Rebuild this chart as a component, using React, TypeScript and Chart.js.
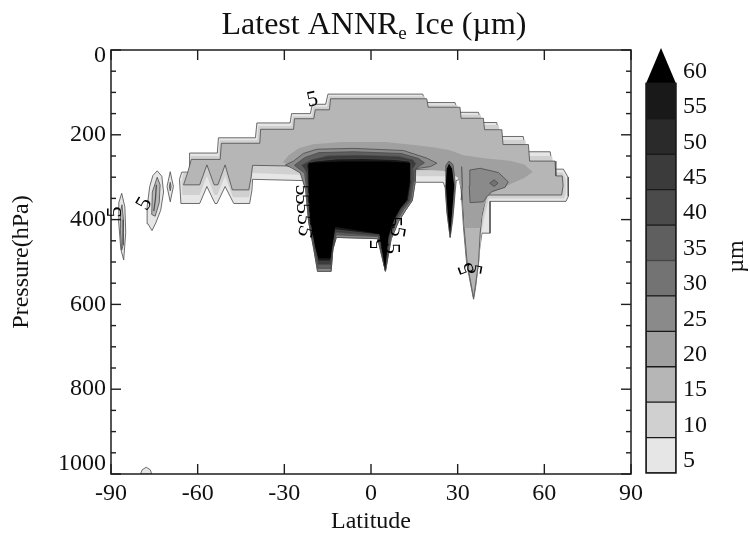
import React, { useEffect, useRef } from "react";
import { Chart, registerables } from "chart.js";

Chart.register(...registerables);

type Pt = [number, number]; // [latitude (deg), pressure (hPa)]

// ---------- axes ----------
const LAT_TICKS = [-90, -60, -30, 0, 30, 60, 90];
const P_TICKS = [0, 200, 400, 600, 800, 1000];
const P_MINOR = [50, 100, 150, 250, 300, 350, 450, 500, 550, 650, 700, 750, 850, 900, 950];

// ---------- colour levels (µm) ----------
const LEVELS = [5, 10, 15, 20, 25, 30, 35, 40, 45, 50, 55, 60];
const LEVEL_COLORS = [
  "#e6e6e6", "#d0d0d0", "#b6b6b6", "#a0a0a0", "#8a8a8a", "#737373",
  "#5f5f5f", "#4b4b4b", "#3b3b3b", "#2a2a2a", "#191919",
];
const OVER_COLOR = "#000000";

// ---------- contour regions ----------
const DOME_5: Pt[] = [
  [-66.3, 305], [-65.5, 288], [-63.0, 288], [-62.8, 243], [-53.2, 243], [-52.8, 207],
  [-40.0, 207], [-39.5, 172], [-28.0, 172], [-27.5, 150], [-21.0, 150], [-20.3, 128],
  [-15.7, 128], [-14.9, 104], [17.9, 104], [18.9, 124], [29.1, 124], [30.0, 147],
  [37.2, 147], [38.3, 171], [43.5, 171], [44.5, 204], [52.7, 204], [53.6, 240],
  [62.0, 240], [63.0, 281], [66.6, 281], [68.2, 300], [68.3, 345], [67.5, 357],
  [41.2, 357], [41.2, 432], [38.4, 432], [37.6, 470], [37.2, 503], [36.2, 560],
  [35.5, 588], [34.7, 560], [33.1, 503], [32.0, 417], [31.2, 330], [30.6, 305],
  [29.5, 308], [29.2, 330], [28.3, 400], [27.4, 442], [26.3, 385], [25.7, 325],
  [25.0, 312], [15.3, 312], [14.3, 355], [12.0, 378], [9.5, 405], [8.3, 425],
  [7.0, 445], [5.0, 522], [2.3, 445], [-12.0, 442], [-13.2, 470], [-13.8, 522],
  [-18.5, 522], [-19.8, 470], [-21.6, 405], [-22.6, 330], [-23.5, 308], [-41.0, 305],
  [-41.2, 330], [-42.0, 362], [-47.5, 362], [-50.5, 322], [-53.3, 362], [-54.0, 362],
  [-56.8, 322], [-59.3, 362], [-65.8, 362],
];

const DOME_10: Pt[] = [
  [-65.6, 310], [-64.9, 290], [-62.5, 290], [-62.4, 250], [-52.8, 250], [-52.4, 213],
  [-39.4, 213], [-39.0, 179], [-27.5, 179], [-27.1, 156], [-20.5, 156], [-19.9, 134],
  [-15.2, 134], [-14.5, 109], [18.5, 109], [19.4, 129], [29.8, 129], [30.5, 153],
  [37.9, 153], [38.8, 177], [44.2, 177], [45.0, 212], [53.4, 212], [54.2, 250],
  [62.7, 250], [63.4, 289], [66.4, 289], [67.4, 305], [67.4, 340], [66.8, 350],
  [40.8, 350], [39.6, 385], [38.3, 428], [37.4, 503], [36.1, 561], [35.5, 586],
  [34.8, 561], [33.2, 503], [32.1, 417], [31.3, 330], [30.8, 302], [29.0, 298],
  [25.0, 298], [14.8, 298], [14.0, 320], [0, 320], [-22.5, 320], [-23.3, 295],
  [-41.1, 290], [-41.4, 320], [-42.2, 347], [-47.8, 347], [-50.5, 297], [-53.2, 342],
  [-54.2, 342], [-56.8, 297], [-59.3, 342], [-65.3, 342],
];

const DOME_15: Pt[] = [
  [-64.9, 318], [-63.5, 290], [-62.2, 258], [-52.2, 258], [-51.8, 220], [-38.5, 220],
  [-38.2, 187], [-26.8, 187], [-26.5, 162], [-19.8, 162], [-19.3, 141], [-14.4, 141],
  [-14.0, 115], [19.3, 115], [19.8, 135], [30.8, 135], [31.2, 161], [38.9, 161],
  [39.3, 188], [45.3, 188], [45.7, 223], [54.5, 223], [54.9, 262], [63.7, 262],
  [64.0, 297], [66.2, 297], [66.5, 320], [66.0, 342], [40.0, 342], [38.4, 392],
  [37.8, 432], [37.2, 503], [36.0, 562], [35.5, 584], [34.9, 562], [33.3, 503],
  [32.2, 417], [31.5, 330], [31.0, 300], [29.0, 290], [25.0, 282], [14.0, 282],
  [14.0, 290], [0, 300], [-22.0, 290], [-23.0, 278], [-25.0, 274], [-41.0, 272],
  [-41.5, 300], [-42.3, 330], [-48.0, 330], [-50.5, 271], [-53.0, 318], [-54.3, 318],
  [-56.8, 271], [-59.3, 318],
];

const HALO_20: Pt[] = [
  [-30.5, 265], [-28.5, 248], [-25.0, 232], [-20.0, 222], [-10.0, 217], [5.0, 217],
  [15.0, 224], [22.0, 230], [27.0, 236], [32.0, 248], [40.0, 256], [48.0, 261],
  [53.0, 270], [56.0, 288], [53.0, 302], [47.0, 320], [43.0, 333], [40.5, 342],
  [38.5, 380], [37.8, 420], [32.5, 420], [31.8, 340], [30.0, 300], [25.0, 285],
  [14.0, 280], [0, 290], [-22.0, 285], [-27.0, 275],
];

const BLOB_25: Pt[] = [
  [34.2, 283], [37.8, 279], [44.1, 289], [47.5, 311], [46.4, 324], [41.8, 334],
  [40.1, 346], [38.9, 358], [34.3, 360], [34.0, 320],
];
const BLOB_30: Pt[] = [[41.1, 314], [42.6, 306], [44.0, 314], [42.6, 322]];

const CORE_25: Pt[] = [
  [-29.6, 271], [-26.8, 262], [-23.4, 244], [-18.7, 234], [-6.0, 232], [11.2, 237],
  [19.3, 255], [22.8, 267], [20.5, 275], [15.5, 280], [15.3, 310], [14.3, 355],
  [12.0, 378], [9.5, 405], [8.3, 425], [7.0, 445], [5.0, 522], [2.3, 445],
  [-12.0, 442], [-13.2, 470], [-13.8, 522], [-18.5, 522], [-19.8, 470], [-21.6, 405],
  [-22.6, 330], [-24.5, 290], [-27.5, 278],
];
const CORE_35: Pt[] = [
  [-26.5, 272], [-23.0, 254], [-18.0, 242], [-6.0, 240], [10.5, 244], [16.5, 256],
  [18.5, 266], [16.5, 275], [14.8, 285], [14.8, 310], [13.8, 355], [11.4, 376],
  [9.0, 403], [7.9, 422], [6.7, 443], [5.0, 521], [2.5, 440], [-12.1, 436],
  [-13.2, 470], [-13.9, 515], [-18.4, 515], [-19.6, 468], [-21.4, 404], [-22.2, 330],
  [-23.0, 290], [-25.0, 280],
];
const CORE_45: Pt[] = [
  [-24.0, 272], [-20.5, 259], [-15.0, 250], [-5.0, 248], [9.5, 251], [14.5, 259],
  [15.5, 268], [14.4, 280], [14.3, 310], [13.3, 355], [10.8, 375], [8.5, 402],
  [7.6, 420], [6.4, 442], [4.95, 520], [2.7, 438], [-12.2, 430], [-13.3, 470],
  [-13.95, 506], [-18.3, 506], [-19.5, 466], [-21.2, 403], [-21.9, 330], [-22.3, 290],
  [-23.0, 280],
];
const CORE_55: Pt[] = [
  [-22.3, 270], [-19.5, 262], [-12.0, 257], [-3.0, 256], [8.0, 258], [13.0, 262],
  [14.0, 270], [13.9, 310], [12.9, 354], [10.4, 374], [8.2, 401], [7.3, 419],
  [6.2, 441], [4.9, 519], [2.8, 436], [-12.3, 424], [-13.4, 470], [-14.0, 498],
  [-18.3, 498], [-19.4, 465], [-21.1, 402], [-21.7, 330], [-21.9, 290],
];
const CORE_60: Pt[] = [
  [-21.6, 266], [-10.0, 263], [5.0, 263], [13.5, 266], [13.5, 307], [12.4, 354],
  [10.1, 373], [8.0, 400], [7.0, 418], [6.0, 440], [4.9, 518], [3.0, 434],
  [-12.4, 417], [-13.5, 465], [-14.0, 491], [-18.2, 491], [-19.3, 464], [-21.05, 401],
  [-21.6, 307],
];

const SPIKE_30: Pt[] = [
  [25.9, 272], [27.0, 262], [28.4, 270], [29.1, 310], [28.6, 370], [27.4, 442],
  [26.3, 380], [25.7, 320],
];
const SPIKE_60: Pt[] = [
  [26.2, 280], [27.0, 268], [28.1, 280], [28.8, 320], [28.0, 390], [27.4, 436],
  [26.6, 390], [25.9, 320],
];
const SPIKE_LINE: Pt[] = [[31.4, 275], [31.6, 320], [31.2, 354]];

const WEST_A_5: Pt[] = [
  [-74.0, 285], [-72.4, 298], [-71.8, 335], [-72.8, 378], [-74.5, 408], [-75.8, 426],
  [-77.2, 410], [-77.5, 370], [-76.6, 322], [-75.5, 296],
];
const WEST_A_15: Pt[] = [
  [-74.0, 300], [-73.0, 318], [-73.3, 360], [-74.7, 392], [-75.9, 388], [-75.7, 335],
];
const WEST_A_LINE: Pt[] = [[-74.3, 318], [-74.6, 350], [-75.2, 380]];
const WEST_B_5: Pt[] = [[-69.5, 287], [-68.4, 322], [-69.5, 358], [-70.6, 322]];
const WEST_B_15: Pt[] = [[-69.5, 312], [-69.2, 322], [-69.5, 332], [-69.8, 322]];
const POLE_5: Pt[] = [
  [-86.3, 338], [-85.2, 370], [-84.9, 430], [-85.6, 495], [-86.6, 470], [-87.4, 400],
  [-87.3, 360],
];
const POLE_15: Pt[] = [
  [-86.2, 365], [-85.7, 400], [-85.8, 460], [-86.3, 472], [-86.8, 420], [-86.7, 380],
];
const SURFACE_5: Pt[] = [[-79.8, 1000], [-79.2, 990], [-77.8, 984], [-76.4, 990], [-75.9, 1000]];

// contour labels: [lat, pressure, rotation deg, text]
const CONTOUR_LABELS: [number, number, number, string][] = [
  [-20.3, 118, -12, "5"],
  [-78.4, 363, -60, "5"],
  [-88.4, 382, -90, "5"],
  [-24.0, 330, 90, "5"],
  [-23.8, 352, 90, "5"],
  [-23.6, 374, 90, "5"],
  [-23.3, 400, 100, "5"],
  [-23.0, 428, 110, "5"],
  [7.8, 405, 90, "5"],
  [8.9, 428, 100, "5"],
  [2.4, 458, -90, "5"],
  [7.2, 468, 90, "5"],
  [33.2, 515, -110, "5"],
  [35.4, 516, 100, "5"],
];

// layers in drawing order (bottom first)
type Layer = { pts: Pt[]; color: string | null; line: boolean; closed?: boolean; lw?: number };
const lv = (v: number) => LEVEL_COLORS[LEVELS.indexOf(v)];
const LAYERS: Layer[] = [
  { pts: DOME_5, color: lv(5), line: true },
  { pts: DOME_10, color: lv(10), line: false },
  { pts: DOME_15, color: lv(15), line: true },
  { pts: HALO_20, color: lv(20), line: false },
  { pts: BLOB_25, color: lv(25), line: true },
  { pts: BLOB_30, color: lv(30), line: true },
  { pts: CORE_25, color: lv(25), line: true },
  { pts: CORE_35, color: lv(35), line: true },
  { pts: CORE_45, color: lv(45), line: true },
  { pts: CORE_55, color: lv(55), line: true },
  { pts: CORE_60, color: OVER_COLOR, line: false },
  { pts: SPIKE_30, color: lv(30), line: true },
  { pts: SPIKE_60, color: OVER_COLOR, line: false },
  { pts: SPIKE_LINE, color: null, line: true, closed: false, lw: 1 },
  { pts: WEST_A_5, color: lv(5), line: true },
  { pts: WEST_A_15, color: lv(15), line: true },
  { pts: WEST_A_LINE, color: null, line: true, closed: false, lw: 1.2 },
  { pts: WEST_B_5, color: lv(5), line: true },
  { pts: WEST_B_15, color: lv(25), line: true },
  { pts: POLE_5, color: lv(5), line: true },
  { pts: POLE_15, color: lv(15), line: true },
  { pts: SURFACE_5, color: lv(5), line: true },
];

const SERIF = '"Liberation Serif", "Times New Roman", "DejaVu Serif", serif';

const framePlugin = {
  id: "iceFrame",
  afterDatasetsDraw(chart: any) {
    const { ctx, chartArea: a, scales } = chart;
    const xs = scales.x;
    const ys = scales.y;
    const seg = (x1: number, y1: number, x2: number, y2: number) => {
      ctx.beginPath();
      ctx.moveTo(x1, y1);
      ctx.lineTo(x2, y2);
      ctx.stroke();
    };
    ctx.save();
    ctx.strokeStyle = "#1e1e1e";
    ctx.lineWidth = 1.5;
    ctx.strokeRect(a.left, a.top, a.right - a.left, a.bottom - a.top);
    ctx.lineWidth = 1.4;
    for (const v of LAT_TICKS) {
      const x = xs.getPixelForValue(v);
      seg(x, a.bottom, x, a.bottom - 10);
      seg(x, a.top, x, a.top + 10);
    }
    for (const v of P_TICKS) {
      const y = ys.getPixelForValue(v);
      seg(a.left, y, a.left + 10, y);
      seg(a.right, y, a.right - 10, y);
    }
    for (const v of P_MINOR) {
      const y = ys.getPixelForValue(v);
      seg(a.left, y, a.left + 5, y);
      seg(a.right, y, a.right - 5, y);
    }

    ctx.fillStyle = "#111";
    ctx.font = `24px ${SERIF}`;
    ctx.textAlign = "center";
    ctx.textBaseline = "middle";
    for (const v of LAT_TICKS) {
      ctx.fillText(String(v), xs.getPixelForValue(v), a.bottom + 20);
    }
    ctx.textAlign = "right";
    for (const v of P_TICKS) {
      let y = ys.getPixelForValue(v);
      y = Math.min(Math.max(y, a.top + 6), a.bottom - 10);
      ctx.fillText(String(v), a.left - 5, y);
    }
    // axis titles
    ctx.textAlign = "center";
    ctx.font = `24px ${SERIF}`;
    ctx.fillText("Latitude", (a.left + a.right) / 2, a.bottom + 48);
    ctx.save();
    ctx.translate(22, (a.top + a.bottom) / 2);
    ctx.rotate(-Math.PI / 2);
    ctx.fillText("Pressure(hPa)", 0, 0);
    ctx.restore();

    // title with subscript
    const big = `32px ${SERIF}`;
    const small = `19px ${SERIF}`;
    const p1 = "Latest ANNR";
    const p2 = "e";
    const p3 = " Ice (\u00b5m)";
    ctx.font = big;
    const w1 = ctx.measureText(p1).width;
    const w3 = ctx.measureText(p3).width;
    ctx.font = small;
    const w2 = ctx.measureText(p2).width;
    const total = w1 + w2 + w3;
    let tx = 374 - total / 2;
    const base = 34;
    ctx.textAlign = "left";
    ctx.textBaseline = "alphabetic";
    ctx.font = big;
    ctx.fillText(p1, tx, base);
    tx += w1;
    ctx.font = small;
    ctx.fillText(p2, tx, base + 5);
    tx += w2;
    ctx.font = big;
    ctx.fillText(p3, tx, base);

    // contour labels
    ctx.font = `22px ${SERIF}`;
    ctx.textAlign = "center";
    ctx.textBaseline = "middle";
    ctx.fillStyle = "#000";
    for (const [lat, p, rot, t] of CONTOUR_LABELS) {
      ctx.save();
      ctx.translate(xs.getPixelForValue(lat), ys.getPixelForValue(p));
      ctx.rotate((rot * Math.PI) / 180);
      ctx.fillText(t, 0, 0);
      ctx.restore();
    }
    ctx.restore();
  },
};

const colorbarPlugin = {
  id: "iceColorbar",
  afterDatasetsDraw(chart: any) {
    const { ctx, chartArea: a, scales } = chart;
    const ys = scales.y;
    ctx.save();
    const yTop = ys.getPixelForValue(LEVELS[LEVELS.length - 1]);
    const yTip = ys.getPixelForValue(LEVELS[LEVELS.length - 1] + 5);
    ctx.fillStyle = OVER_COLOR;
    ctx.beginPath();
    ctx.moveTo(a.left, yTop);
    ctx.lineTo(a.right, yTop);
    ctx.lineTo((a.left + a.right) / 2, yTip);
    ctx.closePath();
    ctx.fill();
    ctx.strokeStyle = "#1a1a1a";
    ctx.lineWidth = 1.5;
    ctx.strokeRect(a.left, yTop, a.right - a.left, ys.getPixelForValue(LEVELS[0]) - yTop);
    ctx.fillStyle = "#111";
    ctx.font = `24px ${SERIF}`;
    ctx.textAlign = "left";
    ctx.textBaseline = "middle";
    for (const v of LEVELS) {
      ctx.fillText(String(v), a.right + 7, ys.getPixelForValue(v) - 12);
    }
    ctx.translate(97, (a.top + a.bottom) / 2 - 4);
    ctx.rotate(-Math.PI / 2);
    ctx.textAlign = "center";
    ctx.fillText("\u00b5m", 0, 0);
    ctx.restore();
  },
};

export default function App() {
  const mainRef = useRef<HTMLCanvasElement | null>(null);
  const cbRef = useRef<HTMLCanvasElement | null>(null);

  useEffect(() => {
    if (!mainRef.current || !cbRef.current) return;
    const datasets = LAYERS.map((l, i) => {
      const pts = l.closed === false ? l.pts : [...l.pts, l.pts[0]];
      return {
        data: pts.map(([x, y]) => ({ x, y })),
        showLine: true,
        fill: l.color ? "shape" : false,
        backgroundColor: l.color ?? "rgba(0,0,0,0)",
        borderColor: l.line ? "#4a4a4a" : "rgba(0,0,0,0)",
        borderWidth: l.lw ?? 0.8,
        borderJoinStyle: "round",
        pointRadius: 0,
        pointHoverRadius: 0,
        tension: 0,
        order: LAYERS.length - i,
      };
    });
    const main = new Chart(mainRef.current, {
      type: "scatter",
      data: { datasets: datasets as any },
      options: {
        animation: false,
        responsive: false,
        devicePixelRatio: 1,
        events: [],
        layout: { padding: { left: 111, right: 119, top: 50, bottom: 65 } },
        scales: {
          x: { type: "linear", min: -90, max: 90, display: false },
          y: { type: "linear", min: 0, max: 1000, reverse: true, display: false },
        },
        plugins: { legend: { display: false }, tooltip: { enabled: false } },
      },
      plugins: [framePlugin],
    });

    const cbDatasets = LEVEL_COLORS.map((c, i) => ({
      data: [[LEVELS[i], LEVELS[i + 1]]],
      backgroundColor: c,
      borderColor: "#1a1a1a",
      borderWidth: 1,
      borderSkipped: false,
      barPercentage: 1,
      categoryPercentage: 1,
      grouped: false,
    }));
    const cb = new Chart(cbRef.current, {
      type: "bar",
      data: { labels: [""], datasets: cbDatasets as any },
      options: {
        animation: false,
        responsive: false,
        devicePixelRatio: 1,
        events: [],
        layout: { padding: { left: 6, right: 74, top: 48, bottom: 66 } },
        scales: {
          x: { display: false },
          y: { display: false, min: LEVELS[0], max: LEVELS[LEVELS.length - 1] + 5 },
        },
        plugins: { legend: { display: false }, tooltip: { enabled: false } },
      },
      plugins: [colorbarPlugin],
    });
    return () => {
      main.destroy();
      cb.destroy();
    };
  }, []);

  return (
    <div style={{ position: "fixed", left: 0, top: 0, width: 750, height: 539, background: "#fff" }}>
      <canvas ref={mainRef} width={750} height={539} style={{ position: "absolute", left: 0, top: 0, width: 750, height: 539 }} />
      <canvas ref={cbRef} width={110} height={539} style={{ position: "absolute", left: 640, top: 0, width: 110, height: 539 }} />
    </div>
  );
}
